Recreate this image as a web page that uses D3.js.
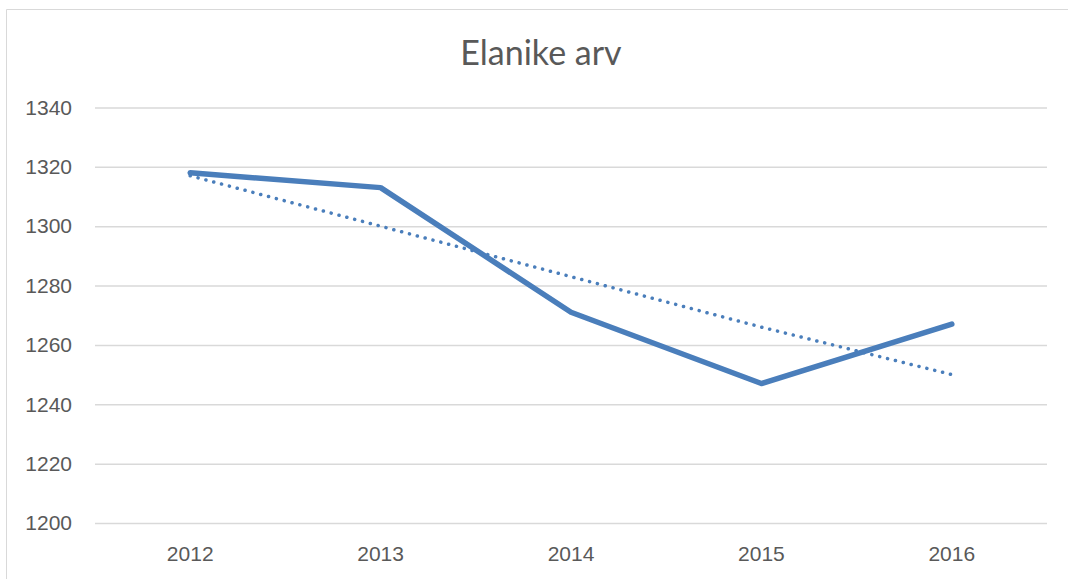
<!DOCTYPE html>
<html>
<head>
<meta charset="utf-8">
<script src="https://cdn.jsdelivr.net/npm/d3@7"></script>
<style>
  html, body { margin: 0; padding: 0; background: #fff; }
  svg { display: block; font-family: Lato, "Open Sans", sans-serif; }
</style>
</head>
<body>
<div id="chart"></div>
<script>
const years = ["2012", "2013", "2014", "2015", "2016"];
const residents = [1318, 1313, 1271, 1247, 1267];
// linear trendline (Excel trendline)
const trend = [1317, 1300, 1283, 1266, 1250];
const yTicks = [1200, 1220, 1240, 1260, 1280, 1300, 1320, 1340];

const width = 1068, height = 579;
const plot = { left: 95, right: 1047, top: 107.5, bottom: 523 };

const svg = d3.select("#chart").append("svg")
    .attr("width", width)
    .attr("height", height);

// chart frame (cropped on right and bottom)
svg.append("path")
    .attr("d", `M6.5,${height + 5} V9.5 H${width + 5}`)
    .attr("fill", "none")
    .attr("stroke", "#d9d9d9")
    .attr("stroke-width", 1);

const x = d3.scaleBand()
    .domain(years)
    .range([plot.left, plot.right]);

const y = d3.scaleLinear()
    .domain([1200, 1340])
    .range([plot.bottom, plot.top]);

// gridlines + y labels
const yAxis = svg.append("g")
    .attr("transform", `translate(${plot.left},0)`)
    .call(d3.axisLeft(y)
        .tickValues(yTicks)
        .tickSize(-(plot.right - plot.left))
        .tickPadding(23)
        .tickFormat(d3.format("d")));
yAxis.select(".domain").remove();
yAxis.selectAll(".tick line")
    .attr("stroke", "#d9d9d9")
    .attr("stroke-width", 1.5);
yAxis.selectAll(".tick text")
    .attr("fill", "#595959")
    .attr("font-size", 21);

// x labels
const xAxis = svg.append("g")
    .attr("transform", `translate(0,${plot.bottom})`)
    .call(d3.axisBottom(x).tickSize(0).tickPadding(23));
xAxis.select(".domain").remove();
xAxis.selectAll(".tick text")
    .attr("fill", "#595959")
    .attr("font-size", 21);

const cx = d => x(d) + x.bandwidth() / 2;

// trendline
svg.append("path")
    .datum(trend)
    .attr("fill", "none")
    .attr("stroke", "#4a7ebb")
    .attr("stroke-width", 3.5)
    .attr("stroke-linecap", "round")
    .attr("stroke-dasharray", "0.1 8")
    .attr("d", d3.line()
        .x((d, i) => cx(years[i]))
        .y(d => y(d)));

// main series
svg.append("path")
    .datum(residents)
    .attr("fill", "none")
    .attr("stroke", "#4a7ebb")
    .attr("stroke-width", 5.5)
    .attr("stroke-linejoin", "round")
    .attr("stroke-linecap", "round")
    .attr("d", d3.line()
        .x((d, i) => cx(years[i]))
        .y(d => y(d)));

// title
svg.append("text")
    .attr("x", 541)
    .attr("y", 65)
    .attr("text-anchor", "middle")
    .attr("fill", "#595959")
    .attr("font-size", 34)
    .text("Elanike arv");
</script>
</body>
</html>
